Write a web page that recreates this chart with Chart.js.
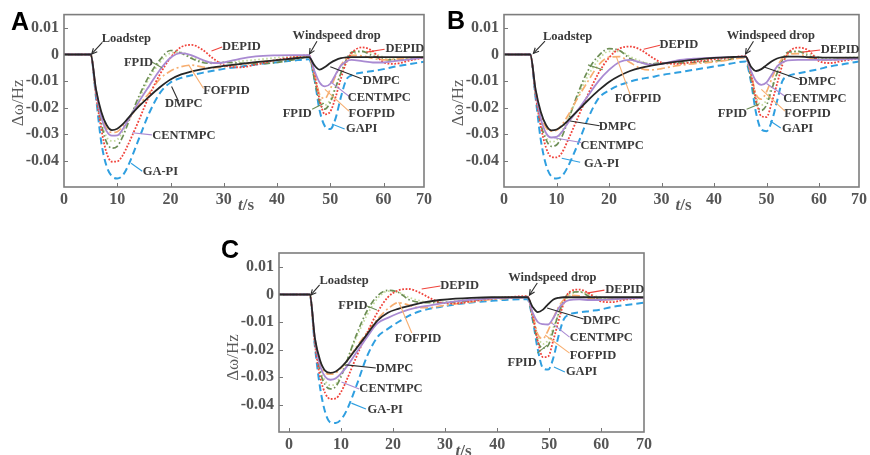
<!DOCTYPE html>
<html><head><meta charset="utf-8">
<script src="https://cdn.jsdelivr.net/npm/chart.js@4/dist/chart.umd.min.js"></script>
<style>
body{margin:0;width:870px;height:455px;background:#fff;position:relative;overflow:hidden}
canvas{position:absolute}
</style></head><body>
<canvas id="cA" width="435" height="215" style="left:0;top:0"></canvas>
<canvas id="cB" width="430" height="215" style="left:440px;top:0"></canvas>
<canvas id="cC" width="440" height="220" style="left:215px;top:235px"></canvas>
<script>
// ---------- data ----------
const seriesNames = ['DMPC','CENTMPC','DEPID','FOFPID','FPID','unlabeled','GA-PI'];
const xTickValues = [0,10,20,30,40,50,60];
const xTickLabels = ['0','10','20','30','40','50','60','70'];
const yTickValues = [-0.04,-0.03,-0.02,-0.01,0,0.01];
const yTickLabels = ['-0.04','-0.03','-0.02','-0.01','0','0.01'];

// Panel A
const tA = [0,5,6,7,8,9,10,11,12,14,16,18,20,22,24,26,28,30,33,36,40,43,46,47,48,49,50,51,52,53,54,56,58,60,62,65,67.6];
const dmpcA = [0,0,-0.013,-0.0215,-0.0265,-0.0284,-0.0279,-0.0263,-0.0240,-0.0196,-0.0158,-0.0123,-0.0094,-0.0075,-0.0063,-0.0055,-0.0048,-0.0043,-0.0036,-0.0029,-0.0021,-0.0015,-0.0010,-0.0040,-0.0057,-0.0047,-0.0032,-0.0021,-0.0014,-0.0011,-0.0010,-0.0010,-0.0010,-0.0010,-0.0010,-0.0010,-0.0010];
const centA = [0,0,-0.0135,-0.0235,-0.0288,-0.0305,-0.0304,-0.0282,-0.0248,-0.0180,-0.0118,-0.0058,-0.0012,0.0005,-0.0003,-0.0020,-0.0032,-0.0030,-0.0016,-0.0007,-0.0003,-0.0002,-0.0002,-0.0060,-0.0105,-0.0120,-0.0110,-0.0075,-0.0042,-0.0026,-0.0020,-0.0025,-0.0030,-0.0030,-0.0025,-0.0018,-0.0012];
const depidA = [0,0,-0.015,-0.028,-0.037,-0.0403,-0.0402,-0.038,-0.034,-0.025,-0.0155,-0.0075,-0.0012,0.0028,0.0036,0.0018,-0.0015,-0.004,-0.0048,-0.0038,-0.002,-0.001,-0.0003,-0.007,-0.017,-0.0225,-0.0215,-0.016,-0.009,-0.003,0.0005,0.0027,0.0012,-0.003,-0.0035,-0.0022,-0.0012];
const fofpidA = [0,0,-0.013,-0.0225,-0.0278,-0.0293,-0.0290,-0.0272,-0.0247,-0.0192,-0.0145,-0.0092,-0.0062,-0.0046,-0.0040,-0.0047,-0.0050,-0.0046,-0.0038,-0.0030,-0.0022,-0.0015,-0.0010,-0.0070,-0.0150,-0.0165,-0.0130,-0.0080,-0.0040,-0.0015,-0.0003,-0.0005,-0.0015,-0.0020,-0.0018,-0.0013,-0.0010];
const fpidA = [0,0,-0.0145,-0.026,-0.033,-0.0352,-0.0345,-0.031,-0.026,-0.016,-0.008,-0.002,0.0015,0.0005,-0.0015,-0.003,-0.0033,-0.003,-0.0032,-0.0035,-0.003,-0.002,-0.001,-0.009,-0.018,-0.0205,-0.018,-0.0125,-0.007,-0.002,0.0008,0.0012,-0.0005,-0.0018,-0.002,-0.0015,-0.001];
const otherA = [0,0,-0.014,-0.025,-0.031,-0.0325,-0.032,-0.029,-0.025,-0.017,-0.009,-0.003,0.0005,0.0008,-0.001,-0.0025,-0.003,-0.0028,-0.0025,-0.002,-0.0012,-0.0008,-0.0005,-0.008,-0.016,-0.019,-0.017,-0.012,-0.007,-0.003,-0.0005,0.0012,0.0005,-0.001,-0.0015,-0.0012,-0.001];
const gapiA = [0,0,-0.016,-0.033,-0.042,-0.0458,-0.0466,-0.0455,-0.042,-0.032,-0.022,-0.0145,-0.0105,-0.0088,-0.0078,-0.0069,-0.0061,-0.0054,-0.0046,-0.0038,-0.0029,-0.0023,-0.0018,-0.009,-0.021,-0.027,-0.028,-0.024,-0.016,-0.0095,-0.0078,-0.0068,-0.0062,-0.0055,-0.0046,-0.0036,-0.0027];

// Panel B
const tB = [0,5,6,7,8,9,10,11,12,14,16,18,20,22,24,26,28,30,33,36,40,43,46,47,48,49,50,51,52,53,54,56,58,60,62,65,67.6];
const dmpcB = [0,0,-0.013,-0.0215,-0.0265,-0.0285,-0.0282,-0.0270,-0.0252,-0.0212,-0.0172,-0.0135,-0.0103,-0.0080,-0.0062,-0.0050,-0.0042,-0.0035,-0.0027,-0.0020,-0.0013,-0.0010,-0.0008,-0.0045,-0.0062,-0.0055,-0.0040,-0.0025,-0.0015,-0.0010,-0.0008,-0.0008,-0.0010,-0.0011,-0.0012,-0.0012,-0.0012];
const centB = [0,0,-0.0135,-0.024,-0.0295,-0.0312,-0.0310,-0.0292,-0.0262,-0.0210,-0.0155,-0.0100,-0.0058,-0.0028,-0.0020,-0.0030,-0.0038,-0.0035,-0.0022,-0.0016,-0.0012,-0.0010,-0.0008,-0.0060,-0.0100,-0.0114,-0.0105,-0.0075,-0.0045,-0.0030,-0.0022,-0.0020,-0.0020,-0.0020,-0.0020,-0.0018,-0.0016];
const depidB = [0,0,-0.015,-0.027,-0.035,-0.0385,-0.0387,-0.037,-0.033,-0.024,-0.015,-0.007,-0.0012,0.0022,0.003,0.0018,-0.0008,-0.003,-0.0035,-0.0028,-0.0018,-0.0012,-0.0006,-0.007,-0.017,-0.0232,-0.0235,-0.018,-0.011,-0.004,0.0003,0.0026,0.0015,-0.0025,-0.0032,-0.0022,-0.0015];
const fofpidB = [0,0,-0.013,-0.0225,-0.0275,-0.0288,-0.0285,-0.0265,-0.0235,-0.0165,-0.0100,-0.0040,-0.0010,-0.0008,-0.0030,-0.0052,-0.0058,-0.0053,-0.0042,-0.0035,-0.0028,-0.0020,-0.0012,-0.0070,-0.0150,-0.0168,-0.0140,-0.0090,-0.0045,-0.0015,0.0000,0.0003,-0.0012,-0.0020,-0.0020,-0.0016,-0.0013];
const fpidB = [0,0,-0.0145,-0.026,-0.032,-0.0345,-0.034,-0.031,-0.026,-0.015,-0.006,-0.0005,0.0022,0.0015,-0.0015,-0.003,-0.0035,-0.0032,-0.0032,-0.003,-0.0025,-0.0018,-0.001,-0.009,-0.018,-0.021,-0.019,-0.013,-0.007,-0.002,0.0008,0.0012,-0.0005,-0.0018,-0.002,-0.0015,-0.0012];
const otherB = [0,0,-0.014,-0.025,-0.031,-0.0328,-0.0322,-0.029,-0.025,-0.016,-0.008,-0.002,0.0012,0.0012,-0.0008,-0.0025,-0.0035,-0.0035,-0.0028,-0.0022,-0.0016,-0.0012,-0.0008,-0.008,-0.016,-0.019,-0.017,-0.012,-0.007,-0.003,-0.0005,0.0012,0.0003,-0.001,-0.0015,-0.0012,-0.001];
const gapiB = [0,0,-0.016,-0.032,-0.0415,-0.0458,-0.0466,-0.0458,-0.0428,-0.034,-0.024,-0.0165,-0.0135,-0.0115,-0.0102,-0.0092,-0.0085,-0.0077,-0.0068,-0.0058,-0.0045,-0.0035,-0.0026,-0.010,-0.022,-0.0282,-0.0288,-0.025,-0.0175,-0.010,-0.0082,-0.0071,-0.0063,-0.0055,-0.0045,-0.0035,-0.0026];

// Panel C
const tC = [-1.9,4,5,6,7,8,9,10,11,13,15,17,19,21,23,25,27,29,32,35,39,42,45.8,46.8,47.8,48.8,49.8,50.8,51.8,52.8,53.8,55.8,57.8,59.8,61.8,64.8,68.2];
const dmpcC = [0,0,-0.016,-0.024,-0.0278,-0.0285,-0.0280,-0.0265,-0.0245,-0.0195,-0.0145,-0.0095,-0.0066,-0.0052,-0.0042,-0.0032,-0.0025,-0.0020,-0.0015,-0.0012,-0.0010,-0.0010,-0.0010,-0.0045,-0.0064,-0.0055,-0.0035,-0.0018,-0.0012,-0.0010,-0.0010,-0.0010,-0.0010,-0.0010,-0.0010,-0.0010,-0.0010];
const centC = [0,0,-0.016,-0.026,-0.030,-0.031,-0.0305,-0.0288,-0.0265,-0.021,-0.0155,-0.0105,-0.0085,-0.0068,-0.0055,-0.0046,-0.0040,-0.0033,-0.0025,-0.0019,-0.0014,-0.0012,-0.0010,-0.0065,-0.0100,-0.0108,-0.0109,-0.0085,-0.0050,-0.0030,-0.0020,-0.0018,-0.0020,-0.0020,-0.0018,-0.0015,-0.0012];
const depidC = [0,0,-0.018,-0.030,-0.036,-0.0380,-0.0378,-0.0355,-0.0315,-0.0225,-0.0140,-0.0065,-0.0010,0.0015,0.0020,0.0008,-0.0012,-0.0028,-0.0032,-0.0025,-0.0015,-0.0010,-0.0006,-0.0075,-0.0170,-0.0228,-0.0225,-0.0165,-0.0095,-0.0030,0.0008,0.0018,0.0002,-0.0024,-0.0028,-0.0018,-0.0012];
const fofpidC = [0,0,-0.016,-0.025,-0.0285,-0.029,-0.0285,-0.0268,-0.0245,-0.019,-0.0138,-0.009,-0.0052,-0.003,-0.0038,-0.0048,-0.0048,-0.0042,-0.0034,-0.0027,-0.0018,-0.0014,-0.0010,-0.0070,-0.0145,-0.0160,-0.0130,-0.0085,-0.0045,-0.0018,-0.0003,-0.0005,-0.0015,-0.0020,-0.0018,-0.0014,-0.0012];
const fpidC = [0,0,-0.017,-0.028,-0.033,-0.0343,-0.0335,-0.030,-0.025,-0.0145,-0.006,-0.0005,0.0015,0.0008,-0.0018,-0.0028,-0.0030,-0.0030,-0.0028,-0.0022,-0.0015,-0.0012,-0.0008,-0.0085,-0.0170,-0.0195,-0.0185,-0.0130,-0.0070,-0.0020,0.0005,0.0010,-0.0008,-0.0018,-0.0018,-0.0014,-0.0012];
const otherC = [0,0,-0.017,-0.027,-0.0315,-0.0330,-0.0325,-0.029,-0.0245,-0.0155,-0.0075,-0.0015,0.0012,0.0008,-0.001,-0.0022,-0.0028,-0.0028,-0.0024,-0.0018,-0.0012,-0.0010,-0.0008,-0.0075,-0.0150,-0.0180,-0.0165,-0.0120,-0.0070,-0.0030,-0.0005,0.0010,0.0000,-0.0010,-0.0014,-0.0012,-0.0010];
const gapiC = [0,0,-0.019,-0.034,-0.043,-0.0465,-0.0467,-0.0455,-0.0425,-0.0330,-0.0225,-0.0155,-0.0125,-0.0100,-0.0078,-0.0062,-0.0052,-0.0045,-0.0036,-0.0029,-0.0023,-0.0019,-0.0017,-0.0090,-0.0200,-0.0268,-0.0273,-0.0230,-0.0150,-0.0090,-0.0073,-0.0065,-0.0060,-0.0055,-0.0046,-0.0038,-0.0030];

// ---------- styles ----------
const lineStyles = [
  {color:'#262626', dash:[], width:1.8},          // DMPC
  {color:'#a98ad2', dash:[], width:1.8},          // CENTMPC
  {color:'#f0443c', dash:[1.8,1.6], width:1.8},   // DEPID
  {color:'#f7ae70', dash:[8,3,2,3], width:1.7},   // FOFPID
  {color:'#6d8e55', dash:[6,2.5,1.5,2.5], width:1.7}, // FPID
  {color:'#c3da9c', dash:[1.6,2.4], width:1.8},   // unlabeled
  {color:'#2f9fe0', dash:[7,4], width:2}          // GA-PI
];
const leaderColor = {k:'#2b2b2b', p:'#a98ad2', r:'#f0443c', o:'#f7ae70', g:'#6d8e55', b:'#2f9fe0'};

// annotations: [text, tx, ty, x1, y1, x2, y2, colorKey, arrow]
const annotA = [
  ['Loadstep',11.7,0.0061,7.2,0.0046,5.2,0.0002,'k',1],
  ['FPID',14.0,-0.0031,16.5,-0.0028,18.4,-0.005,'g',0],
  ['DEPID',33.3,0.0028,27.7,0.0013,29.7,0.0028,'r',0],
  ['FOFPID',30.5,-0.0135,23.4,-0.0039,26.2,-0.0128,'o',0],
  ['DMPC',22.5,-0.0187,20.2,-0.012,21.5,-0.0176,'k',0],
  ['CENTMPC',22.5,-0.0305,12.8,-0.0294,16.5,-0.0302,'p',0],
  ['GA-PI',18.1,-0.0442,12.6,-0.0409,14.7,-0.0439,'b',0],
  ['Windspeed drop',51.2,0.0069,47.5,0.005,46.1,0.0002,'k',1],
  ['DEPID',64.0,0.002,56.8,0.0009,60.2,0.002,'r',0],
  ['DMPC',59.6,-0.0098,50.0,-0.0046,55.9,-0.0091,'k',0],
  ['CENTMPC',59.2,-0.0161,50.0,-0.0102,53.5,-0.0157,'p',0],
  ['FOFPID',57.8,-0.0224,49.0,-0.0131,53.5,-0.0213,'o',0],
  ['FPID',43.8,-0.0224,46.6,-0.0206,48.8,-0.0183,'g',0],
  ['GAPI',55.9,-0.028,50.3,-0.0261,52.7,-0.028,'b',0]
];
const annotB = [
  ['Loadstep',12.1,0.0065,7.8,0.005,5.6,0.0004,'k',1],
  ['DEPID',33.3,0.0035,26.6,0.002,29.7,0.0035,'r',0],
  ['',0,0,16.0,-0.0039,18.8,-0.0057,'g',0],
  ['FOFPID',25.5,-0.0165,21.4,-0.0009,24.0,-0.015,'o',0],
  ['DMPC',21.6,-0.0272,12.6,-0.025,18.2,-0.0268,'k',0],
  ['CENTMPC',20.6,-0.0343,9.5,-0.0313,14.7,-0.0331,'p',0],
  ['GA-PI',18.6,-0.0409,11.0,-0.039,14.5,-0.0405,'b',0],
  ['Windspeed drop',50.8,0.0069,47.5,0.005,46.0,0.0002,'k',1],
  ['DEPID',64.0,0.0017,56.8,0.0009,60.2,0.0017,'r',0],
  ['DMPC',59.7,-0.0102,49.4,-0.0046,56.3,-0.0094,'k',0],
  ['CENTMPC',59.2,-0.0165,50.0,-0.0109,53.5,-0.0157,'p',0],
  ['FOFPID',57.8,-0.0224,49.0,-0.0131,53.5,-0.0213,'o',0],
  ['FPID',43.5,-0.0224,46.2,-0.0206,48.5,-0.0187,'g',0],
  ['GAPI',55.9,-0.028,50.7,-0.025,52.7,-0.0276,'b',0]
];
const annotC = [
  ['Loadstep',10.6,0.0049,5.9,0.0035,4.2,-0.0002,'k',1],
  ['DEPID',32.8,0.0031,25.5,0.002,29.1,0.0031,'r',0],
  ['FPID',12.3,-0.0042,15.0,-0.0042,16.9,-0.0056,'g',0],
  ['FOFPID',24.8,-0.0162,21.1,-0.0027,23.6,-0.014,'o',0],
  ['DMPC',20.3,-0.0271,11.0,-0.0256,16.7,-0.0267,'k',0],
  ['CENTMPC',19.6,-0.0344,10.1,-0.0318,13.5,-0.0344,'p',0],
  ['GA-PI',18.5,-0.042,12.0,-0.0395,14.8,-0.0416,'b',0],
  ['Windspeed drop',50.6,0.006,47.7,0.0042,46.2,-0.0002,'k',1],
  ['DEPID',64.5,0.0016,57.2,0.0005,60.6,0.0016,'r',0],
  ['DMPC',60.1,-0.0096,49.6,-0.0049,56.6,-0.0089,'k',0],
  ['CENTMPC',60.0,-0.0158,50.5,-0.0104,53.9,-0.0155,'p',0],
  ['FOFPID',58.4,-0.0224,49.2,-0.0147,53.9,-0.0213,'o',0],
  ['FPID',44.8,-0.0249,47.7,-0.0213,49.6,-0.0184,'g',0],
  ['GAPI',56.2,-0.0282,50.9,-0.0264,53.0,-0.0282,'b',0]
];

const SERIF = '"Liberation Serif","DejaVu Serif",serif';

const decoPlugin = {
  id:'deco',
  afterDatasetsDraw(chart, args, o) {
    const {ctx, chartArea:a, scales:{x,y}} = chart;
    ctx.save();
    // inner tick marks
    ctx.strokeStyle = '#777'; ctx.lineWidth = 1;
    ctx.beginPath();
    xTickValues.forEach(v => { if (v > x.min + 0.5) { const px = Math.round(x.getPixelForValue(v))+0.5; ctx.moveTo(px,a.bottom); ctx.lineTo(px,a.bottom-4);} });
    yTickValues.forEach(v => { const py = Math.round(y.getPixelForValue(v))+0.5; ctx.moveTo(a.left,py); ctx.lineTo(a.left+4,py); });
    ctx.stroke();
    // frame
    ctx.strokeStyle = '#7d7d7d'; ctx.lineWidth = 1.6;
    ctx.strokeRect(a.left, a.top, a.right-a.left, a.bottom-a.top);
    // annotations
    ctx.font = 'bold 12.5px ' + SERIF;
    ctx.textAlign = 'center'; ctx.textBaseline = 'middle';
    o.annots.forEach(an => {
      const [txt,tx,ty,x1,y1,x2,y2,ck,arrow] = an;
      const X1 = x.getPixelForValue(x1), Y1 = y.getPixelForValue(y1);
      const X2 = x.getPixelForValue(x2), Y2 = y.getPixelForValue(y2);
      ctx.strokeStyle = leaderColor[ck]; ctx.lineWidth = 1.1; ctx.setLineDash([]);
      ctx.beginPath(); ctx.moveTo(X1,Y1); ctx.lineTo(X2,Y2); ctx.stroke();
      if (arrow) {
        const ang = Math.atan2(Y2-Y1, X2-X1), L = 6;
        ctx.beginPath();
        ctx.moveTo(X2 - L*Math.cos(ang-0.45), Y2 - L*Math.sin(ang-0.45));
        ctx.lineTo(X2, Y2);
        ctx.lineTo(X2 - L*Math.cos(ang+0.45), Y2 - L*Math.sin(ang+0.45));
        ctx.stroke();
      }
      if (txt) {
        ctx.fillStyle = '#3a3a3a';
        ctx.fillText(txt, x.getPixelForValue(tx), y.getPixelForValue(ty));
      }
    });
    // axis titles
    ctx.fillStyle = '#5a5a5a';
    ctx.save();
    ctx.translate(a.left - 45, (a.top+a.bottom)/2 + o.yTitleShift);
    ctx.rotate(-Math.PI/2);
    ctx.font = '17px ' + SERIF;
    ctx.fillText('\u0394\u03c9/Hz', 0, 0);
    ctx.restore();
    const cx = (a.left+a.right)/2 + 2, cy = a.bottom + o.xTitleDy;
    ctx.font = 'italic bold 17px ' + SERIF;
    const w1 = ctx.measureText('t').width;
    ctx.font = 'bold 17px ' + SERIF;
    const w2 = ctx.measureText('/s').width;
    ctx.textAlign = 'left';
    ctx.font = 'italic bold 17px ' + SERIF;
    ctx.fillText('t', cx - (w1+w2)/2, cy);
    ctx.font = 'bold 17px ' + SERIF;
    ctx.fillText('/s', cx - (w1+w2)/2 + w1, cy);
    // panel letter
    ctx.fillStyle = '#000';
    ctx.font = 'bold 25px "Liberation Sans",Arial,sans-serif';
    ctx.textBaseline = 'top';
    ctx.fillText(o.letter, o.letterX, o.letterY);
    ctx.restore();
  }
};

function makePanel(id, t, series, xMin, xMax, yMin, yMax, pad, xAxisH, annots, deco) {
  const xticks = xTickValues.concat([xMax]);
  const datasets = series.map((vals, i) => ({
    label: seriesNames[i],
    data: t.map((tv, k) => ({x: tv, y: vals[k]})),
    borderColor: lineStyles[i].color,
    borderDash: lineStyles[i].dash,
    borderWidth: lineStyles[i].width,
    pointRadius: 0,
    fill: false,
    cubicInterpolationMode: 'monotone'
  }));
  new Chart(document.getElementById(id), {
    type: 'line',
    data: {datasets},
    options: {
      responsive: false, animation: false, events: [],
      layout: {padding: pad},
      plugins: {legend:{display:false}, tooltip:{enabled:false},
        deco: Object.assign({annots}, deco)},
      scales: {
        x: {type:'linear', min:xMin, max:xMax,
          grid:{display:false, drawTicks:false}, border:{display:false},
          afterBuildTicks: s => { s.ticks = xticks.map(v => ({value:v})); },
          afterFit: s => { s.height = xAxisH; },
          ticks: {autoSkip:false, maxRotation:0, padding:3, color:'#555',
            font:{family:SERIF, size:16, weight:'bold'},
            callback: (v, i) => xTickLabels[i]}
        },
        y: {type:'linear', min:yMin, max:yMax,
          grid:{display:false, drawTicks:false}, border:{display:false},
          afterBuildTicks: s => { s.ticks = yTickValues.map(v => ({value:v})); },
          afterFit: s => { s.width = 64; },
          ticks: {autoSkip:false, padding:5, color:'#555',
            font:{family:SERIF, size:16, weight:'bold'},
            callback: (v, i) => yTickLabels[i]}
        }
      }
    },
    plugins: [decoPlugin]
  });
}

makePanel('cA', tA, [dmpcA,centA,depidA,fofpidA,fpidA,otherA,gapiA], 0, 67.6, -0.0498, 0.015,
  {left:0, top:12, right:7, bottom:0}, 28, annotA,
  {letter:'A', letterX:11, letterY:11, yTitleShift:2, xTitleDy:19});
makePanel('cB', tB, [dmpcB,centB,depidB,fofpidB,fpidB,otherB,gapiB], 0, 67.6, -0.0498, 0.015,
  {left:0, top:12, right:2, bottom:0}, 28, annotB,
  {letter:'B', letterX:7, letterY:10, yTitleShift:2, xTitleDy:19});
makePanel('cC', tC, [dmpcC,centC,depidC,fofpidC,fpidC,otherC,gapiC], -1.9, 68.2, -0.050, 0.0151,
  {left:0, top:18, right:7, bottom:0}, 23, annotC,
  {letter:'C', letterX:6, letterY:4, yTitleShift:15, xTitleDy:20});
</script>
</body></html>
